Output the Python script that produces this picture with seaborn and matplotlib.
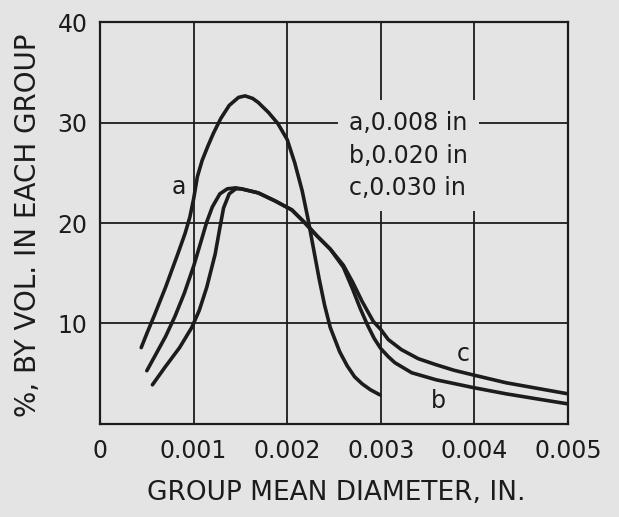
import numpy as np
import pandas as pd
import matplotlib
matplotlib.use("Agg")
import matplotlib.pyplot as plt
import seaborn as sns

# nozzle diameters (legend) and curve values
nozzles = ["a", "b", "c"]
nozzle_text = ["a,0.008 in", "b,0.020 in", "c,0.030 in"]

a_x = [0.00044, 0.00050, 0.00058, 0.00070, 0.00083, 0.00091, 0.00096, 0.00100,
       0.00104, 0.00109, 0.00115, 0.00121, 0.00129, 0.00138, 0.00148, 0.00155,
       0.00163, 0.00169, 0.00180, 0.00190, 0.00200, 0.00208, 0.00216, 0.00222,
       0.00228, 0.00234, 0.00240, 0.00246, 0.00256, 0.00264, 0.00272, 0.00280,
       0.00289, 0.00299]
a_y = [7.6, 9.0, 10.8, 13.6, 16.9, 19.0, 20.6, 22.4,
       24.6, 26.2, 27.6, 28.9, 30.4, 31.7, 32.5, 32.65,
       32.4, 32.0, 31.0, 29.9, 28.3, 26.0, 23.2, 20.5,
       17.5, 14.5, 11.8, 9.6, 7.2, 5.8, 4.7, 4.0,
       3.4, 2.9]

b_x = [0.00050, 0.00060, 0.00070, 0.00080, 0.00090, 0.00100, 0.00108, 0.00114,
       0.00120, 0.00128, 0.00136, 0.00145, 0.00151, 0.00169, 0.00187, 0.00205,
       0.00218, 0.00232, 0.00246, 0.00260, 0.00270, 0.00278, 0.00286, 0.00293,
       0.00300, 0.00308, 0.00315, 0.00333, 0.00359, 0.00400, 0.00434, 0.00470,
       0.00500]
b_y = [5.3, 7.0, 8.7, 10.7, 13.0, 15.7, 18.2, 20.1,
       21.6, 22.9, 23.4, 23.5, 23.4, 23.0, 22.2, 21.3,
       20.1, 18.7, 17.4, 15.6, 13.4, 11.5, 9.8, 8.5,
       7.5, 6.7, 6.1, 5.1, 4.4, 3.6, 3.0, 2.45,
       2.0]

c_x = [0.00056, 0.00069, 0.00085, 0.00098, 0.00106, 0.00114, 0.00123, 0.00128,
       0.00132, 0.00138, 0.00145, 0.00151, 0.00169, 0.00187, 0.00205, 0.00218,
       0.00232, 0.00246, 0.00260, 0.00270, 0.00280, 0.00292, 0.00300, 0.00308,
       0.00322, 0.00340, 0.00359, 0.00378, 0.00400, 0.00434, 0.00470, 0.00500]
c_y = [3.9, 5.6, 7.6, 9.6, 11.3, 13.6, 16.9, 19.5,
       21.5, 22.9, 23.4, 23.4, 23.0, 22.2, 21.3, 20.1,
       18.7, 17.4, 15.8, 14.1, 12.2, 10.2, 9.4, 8.4,
       7.4, 6.5, 5.9, 5.35, 4.85, 4.1, 3.5, 3.0]

x_ticks = [0, 0.001, 0.002, 0.003, 0.004, 0.005]
x_tick_labels = ["0", "0.001", "0.002", "0.003", "0.004", "0.005"]
y_ticks = [10, 20, 30, 40]
y_tick_labels = ["10", "20", "30", "40"]

df = pd.concat([
    pd.DataFrame({"d": a_x, "pct": a_y, "nozzle": "a"}),
    pd.DataFrame({"d": b_x, "pct": b_y, "nozzle": "b"}),
    pd.DataFrame({"d": c_x, "pct": c_y, "nozzle": "c"}),
], ignore_index=True)

bg = "#e4e4e4"
ink = "#1c1c1c"

sns.set_theme(style="white")
plt.rcParams["font.family"] = ["DejaVu Sans"]

fig = plt.figure(figsize=(6.19, 5.17), dpi=100, facecolor=bg)
ax = fig.add_axes([0.1616, 0.1799, 0.756, 0.7775])
ax.set_facecolor(bg)

sns.lineplot(data=df, x="d", y="pct", hue="nozzle", hue_order=nozzles,
             palette=[ink] * 3, linewidth=2.6, legend=False, estimator=None,
             sort=False, ax=ax, solid_joinstyle="round", solid_capstyle="round")

ax.set_xlim(0, 0.005)
ax.set_ylim(0, 40)
ax.set_xticks(x_ticks)
ax.set_xticklabels(x_tick_labels)
ax.set_yticks(y_ticks)
ax.set_yticklabels(y_tick_labels)
ax.tick_params(axis="x", length=0, pad=11, labelsize=17, labelcolor=ink)
ax.tick_params(axis="y", length=0, pad=9, labelsize=17, labelcolor=ink)

ax.grid(True, color=ink, linewidth=1.3)
ax.set_axisbelow(True)
for s in ax.spines.values():
    s.set_color(ink)
    s.set_linewidth(1.6)

ax.set_xlabel("GROUP MEAN DIAMETER, IN.", fontsize=19, color=ink)
ax.xaxis.set_label_coords(0.504, -0.172)
ax.xaxis.label.set_va("center")
ax.set_ylabel("%, BY VOL. IN EACH GROUP", fontsize=20, color=ink)
ax.yaxis.set_label_coords(-0.154, 0.495)
ax.yaxis.label.set_va("center")

# nozzle key, blanking the grid behind it
ax.text(0.00266, 26.7, "\n".join(nozzle_text), fontsize=17, color=ink,
        ha="left", va="center", linespacing=1.45,
        bbox=dict(facecolor=bg, edgecolor="none", pad=8))

# curve labels
ax.text(0.00084, 23.6, "a", fontsize=17, color=ink, ha="center", va="center")
ax.text(0.00362, 2.3, "b", fontsize=17, color=ink, ha="center", va="center")
ax.text(0.00388, 7.0, "c", fontsize=17, color=ink, ha="center", va="center")

fig.savefig("out.png", dpi=100, facecolor=bg)
